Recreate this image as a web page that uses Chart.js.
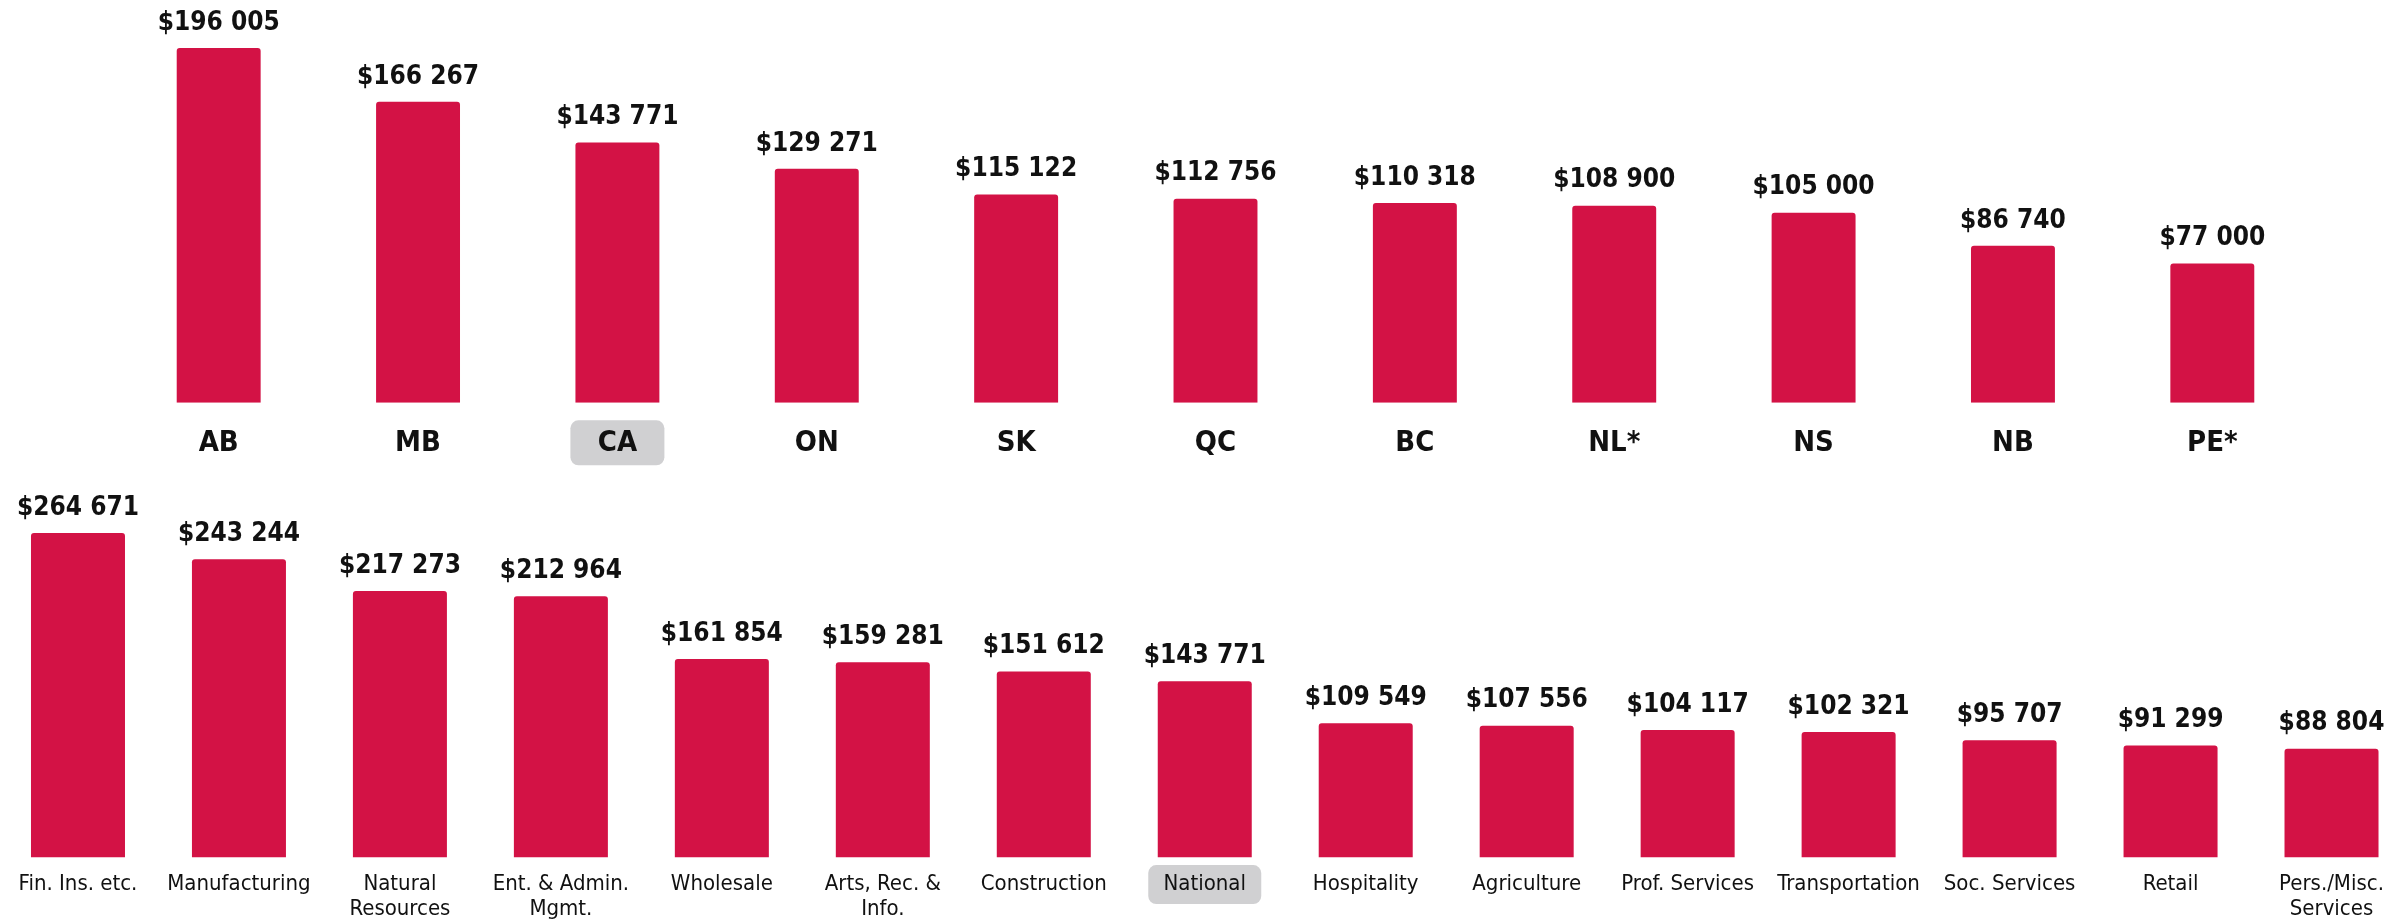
<!DOCTYPE html>
<html>
<head>
<meta charset="utf-8">
<script src="https://cdn.jsdelivr.net/npm/chart.js@4.4.0/dist/chart.umd.min.js"></script>
<style>
  html, body { margin: 0; padding: 0; background: #fff; overflow: hidden; }
  #top { position: absolute; left: 0; top: 0; width: 2400px; height: 493px; }
  #bottom { position: absolute; left: -10px; top: 470px; width: 2425px; height: 466px; }
</style>
</head>
<body>
<div id="top"><canvas id="provChart"></canvas></div>
<div id="bottom"><canvas id="industryChart"></canvas></div>
<script>
// Data

const provinces = ["AB", "MB", "CA", "ON", "SK", "QC", "BC", "NL*", "NS", "NB", "PE*"];
const provinceValues = [196005, 166267, 143771, 129271, 115122, 112756, 110318, 108900, 105000, 86740, 77000];

const industries = ["Fin. Ins. etc.", "Manufacturing", ["Natural", "Resources"], ["Ent. & Admin.", "Mgmt."],
  "Wholesale", ["Arts, Rec. &", "Info."], "Construction", "National", "Hospitality", "Agriculture",
  "Prof. Services", "Transportation", "Soc. Services", "Retail", ["Pers./Misc.", "Services"]];
const industryValues = [264671, 243244, 217273, 212964, 161854, 159281, 151612, 143771, 109549, 107556,
  104117, 102321, 95707, 91299, 88804];

const provinceHighlight = 2;   // CA
const industryHighlight = 7;   // National

// Setup

const FONT = '"DejaVu Sans Condensed", "Liberation Sans Narrow", "DejaVu Sans", sans-serif';
const BAR_COLOR = '#d31245';

function money(v) {
  return "$" + String(v).replace(/\B(?=(\d{3})+(?!\d))/g, " ");
}

// value above each bar
const valueLabels = {
  id: 'valueLabels',
  afterDatasetsDraw(chart, args, opts) {
    const ctx = chart.ctx;
    const values = chart.data.datasets[0].data;
    ctx.save();
    ctx.font = 'bold 26px ' + FONT;
    ctx.fillStyle = '#111';
    ctx.textAlign = 'center';
    ctx.textBaseline = 'middle';
    chart.getDatasetMeta(0).data.forEach(function (bar, i) {
      ctx.fillText(money(values[i]), bar.x, bar.y - opts.gap);
    });
    ctx.restore();
  }
};

// grey pill behind the reference category
const highlightBox = {
  id: 'highlightBox',
  beforeDraw(chart, args, opts) {
    const ctx = chart.ctx;
    const x = chart.scales.x.getPixelForValue(opts.index);
    const y = chart.chartArea.bottom + opts.offset;
    ctx.save();
    ctx.fillStyle = '#d0d0d2';
    ctx.beginPath();
    ctx.roundRect(x - opts.w / 2, y - opts.h / 2, opts.w, opts.h, 8);
    ctx.fill();
    ctx.restore();
  }
};

// Configuration

let provConfig = {
  type: 'bar',
  data: {
    labels: provinces,
    datasets: [{
      data: provinceValues,
      backgroundColor: BAR_COLOR,
      borderRadius: 3,
      borderSkipped: 'bottom',
      categoryPercentage: 1,
      barPercentage: 0.421,
    }],
  },
  options: {
    responsive: true,
    maintainAspectRatio: false,
    animation: false,
    layout: { padding: { left: 119, right: 88, top: 4.5, bottom: 9.4 } },
    plugins: {
      legend: { display: false },
      tooltip: { enabled: false },
      valueLabels: { gap: 25 },
      highlightBox: { index: provinceHighlight, offset: 40, w: 94, h: 45 },
    },
    scales: {
      x: {
        grid: { display: false, drawTicks: false },
        border: { display: false },
        ticks: {
          color: '#111',
          font: { family: FONT, size: 29, weight: 'bold' },
          padding: 23,
          autoSkip: false,
          maxRotation: 0,
        },
      },
      y: { display: false, min: 0, max: 220000 },
    },
  },
  plugins: [valueLabels, highlightBox],
};

let industryConfig = {
  type: 'bar',
  data: {
    labels: industries,
    datasets: [{
      data: industryValues,
      backgroundColor: BAR_COLOR,
      borderRadius: 3,
      borderSkipped: 'bottom',
      categoryPercentage: 1,
      barPercentage: 0.584,
    }],
  },
  options: {
    responsive: true,
    maintainAspectRatio: false,
    animation: false,
    layout: { padding: { left: 7.5, right: 3, top: 19.6, bottom: 0 } },
    plugins: {
      legend: { display: false },
      tooltip: { enabled: false },
      valueLabels: { gap: 25 },
      highlightBox: { index: industryHighlight, offset: 27, w: 113, h: 39 },
    },
    scales: {
      x: {
        grid: { display: false, drawTicks: false },
        border: { display: false },
        ticks: {
          color: '#111',
          font: { family: FONT, size: 22, lineHeight: 1.1 },
          padding: 15,
          autoSkip: false,
          maxRotation: 0,
        },
      },
      y: { display: false, min: 0, max: 300000 },
    },
  },
  plugins: [valueLabels, highlightBox],
};

prov = new Chart(document.getElementById('provChart'), provConfig);
industry = new Chart(document.getElementById('industryChart'), industryConfig);
</script>
</body>
</html>
